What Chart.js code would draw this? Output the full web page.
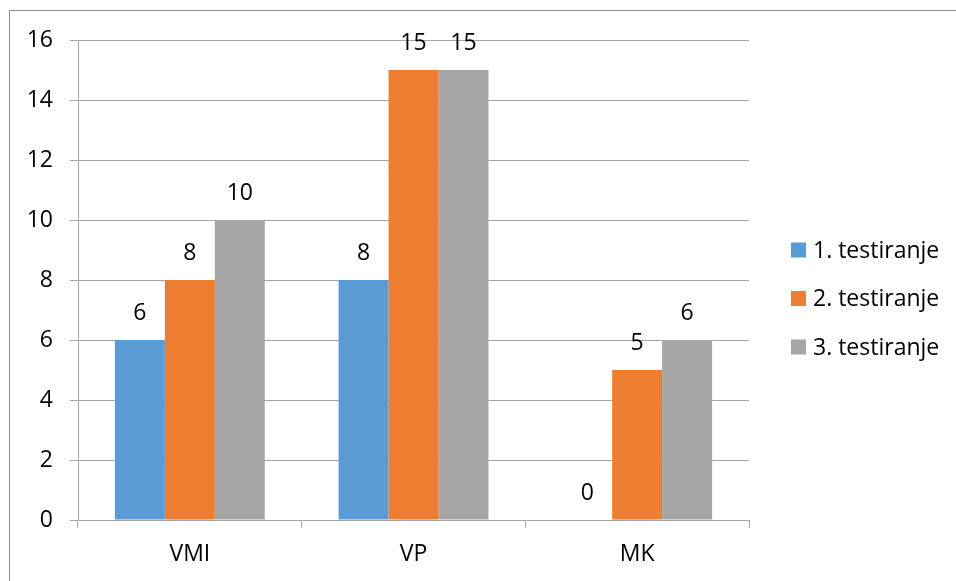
<!DOCTYPE html>
<html>
<head>
<meta charset="utf-8">
<script src="https://cdn.jsdelivr.net/npm/chart.js@4/dist/chart.umd.min.js"></script>
<style>
  body { margin: 0; background: #fff; }
  canvas { display: block; }
</style>
</head>
<body>
<canvas id="testGraph" width="956" height="581"></canvas>
<script>
// Categories and results of the three testings
const categories = ['VMI', 'VP', 'MK'];
const test1 = [6, 8, 0];
const test2 = [8, 15, 5];
const test3 = [10, 15, 6];
const seriesNames = ['1. testiranje', '2. testiranje', '3. testiranje'];
const yTicks = [0, 2, 4, 6, 8, 10, 12, 14, 16];

const font = { family: "'Open Sans', sans-serif", size: 23 };
const gridColor = '#a6a6a6';

// value labels above each bar
const valueLabels = {
    id: 'valueLabels',
    afterDatasetsDraw(chart) {
        const ctx = chart.ctx;
        ctx.save();
        ctx.font = font.size + 'px ' + font.family;
        ctx.fillStyle = '#000';
        ctx.textAlign = 'center';
        ctx.textBaseline = 'middle';
        chart.data.datasets.forEach((ds, i) => {
            chart.getDatasetMeta(i).data.forEach((bar, j) => {
                ctx.fillText(ds.data[j], bar.x, bar.y - 27);
            });
        });
        ctx.restore();
    }
};

// legend on the right, Excel style
const sideLegend = {
    id: 'sideLegend',
    afterDraw(chart) {
        const ctx = chart.ctx;
        ctx.save();
        ctx.font = font.size + 'px ' + font.family;
        ctx.textBaseline = 'middle';
        chart.data.datasets.forEach((ds, i) => {
            const y = 250 + i * 48.5;
            ctx.fillStyle = ds.backgroundColor;
            ctx.fillRect(791, y - 7.5, 15, 15);
            ctx.fillStyle = '#000';
            ctx.fillText(ds.label, 813, y + 1);
        });
        ctx.restore();
    }
};

// outer frame of the chart
const frame = {
    id: 'frame',
    beforeDraw(chart) {
        const ctx = chart.ctx;
        ctx.save();
        ctx.strokeStyle = '#8c8c8c';
        ctx.lineWidth = 1;
        ctx.beginPath();
        ctx.moveTo(9.5, chart.height);
        ctx.lineTo(9.5, 10.5);
        ctx.lineTo(chart.width, 10.5);
        ctx.stroke();
        ctx.restore();
    }
};

const ctx = document.getElementById('testGraph').getContext('2d');
new Chart(ctx, {
    type: 'bar',
    data: {
        labels: categories,
        datasets: [
            { label: seriesNames[0], data: test1, backgroundColor: '#5b9bd5' },
            { label: seriesNames[1], data: test2, backgroundColor: '#ed7d31' },
            { label: seriesNames[2], data: test3, backgroundColor: '#a5a5a5' }
        ]
    },
    options: {
        responsive: false,
        animation: false,
        categoryPercentage: 0.67,
        barPercentage: 1,
        layout: { padding: { top: 40, right: 207, bottom: 0, left: 0 } },
        plugins: {
            tooltip: { enabled: false },
            legend: { display: false }
        },
        scales: {
            x: {
                afterFit: axis => { axis.height = 61; },
                grid: { drawOnChartArea: false, tickLength: 8, color: gridColor },
                border: { color: gridColor },
                ticks: { font: font, color: '#000', padding: 13 }
            },
            y: {
                min: 0,
                max: 16,
                afterFit: axis => { axis.width = 78; },
                afterBuildTicks: axis => { axis.ticks = yTicks.map(v => ({ value: v })); },
                grid: { color: gridColor, tickLength: 8 },
                border: { color: gridColor },
                ticks: { font: font, color: '#000', padding: 17 }
            }
        }
    },
    plugins: [valueLabels, sideLegend, frame]
});
</script>
</body>
</html>
